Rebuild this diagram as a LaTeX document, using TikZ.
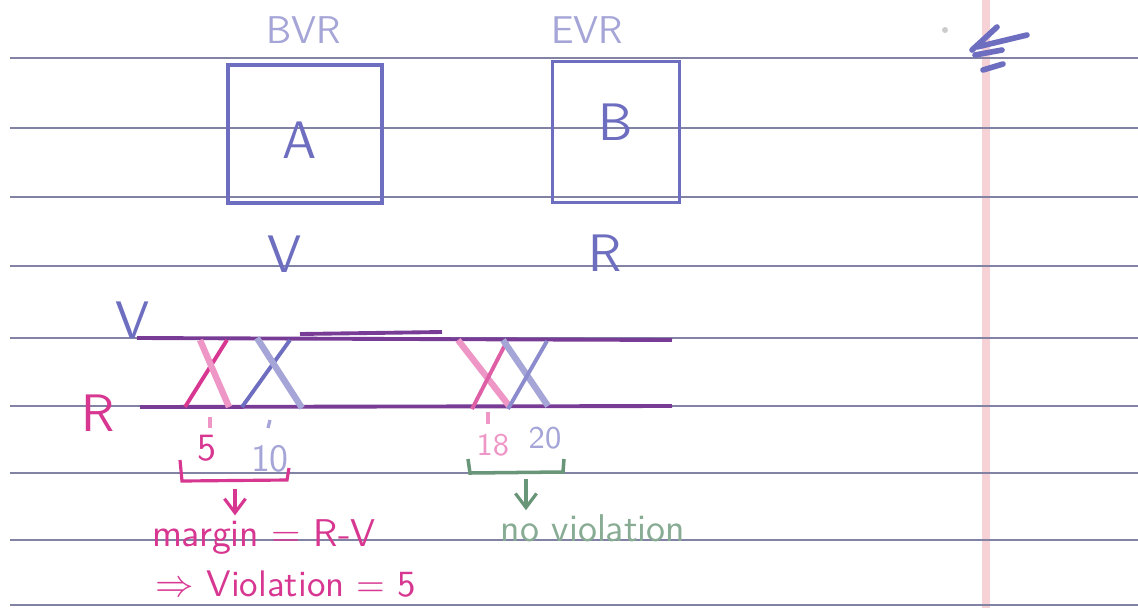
\documentclass[tikz,border=0pt]{standalone}
\usepackage{tikz}
\usetikzlibrary{arrows.meta}

\definecolor{penblue}{RGB}{110,110,192}
\definecolor{lightblue}{RGB}{165,165,215}
\definecolor{penpink}{RGB}{215,55,145}
\definecolor{lightpink}{RGB}{238,150,198}
\definecolor{pengreen}{RGB}{105,150,120}
\definecolor{wave}{RGB}{120,60,150}
\definecolor{rulegray}{RGB}{130,130,165}
\definecolor{marginred}{RGB}{246,210,214}

\begin{document}
\begin{tikzpicture}[x=0.01cm,y=-0.01cm,
			rule/.style={rulegray, line width=0.8pt},
			blockbox/.style={draw=penblue, line width=1.1pt, inner sep=0pt},
			bigtxt/.style={font=\sffamily\fontsize{15}{18}\selectfont, inner sep=1pt},
			smalltxt/.style={font=\sffamily\fontsize{11}{13}\selectfont, inner sep=1pt},
			handarrow/.style={-{Straight Barb[length=4pt,width=6pt]}, line width=0.9pt}
			]
			\useasboundingbox (0,0) rectangle (1138,608);
			\fill[white] (0,0) rectangle (1138,608);
			%%%%%%%%%%%%%%% paper
			\draw[marginred, line width=2.3pt] (986,0) -- (986,608);
			\foreach \y in {58,128,197,266,338,406,473,540,605}
			\draw[rule] (10,\y) -- (1138,\y);
			\fill[gray!40] (945,30) circle (3);
			\draw[penblue, line width=1.6pt, line cap=round] (972,50) -- (997,27) (977,47) -- (1027,35)
			(975,55) -- (1002,50) (983,70) -- (1003,64);
			%%%%%%%%%%%%%%% blocks
			\node[blockbox, minimum width=1.54cm, minimum height=1.38cm] (A) at (305,134) {};
			\node[blockbox, minimum width=1.27cm, minimum height=1.41cm] (B) at (616,132) {};
			\node[bigtxt, text=penblue] (la) at (300,140) {A};
			\node[bigtxt, text=penblue] (lb) at (616,122) {B};
			\node[smalltxt, text=lightblue] (bvr) at (304,30) {BVR};
			\node[smalltxt, text=lightblue] (evr) at (587,30) {EVR};
			\node[bigtxt, text=penblue] (pv) at (285,254) {V};
			\node[bigtxt, text=penblue] (pr) at (605,253) {R};
			%%%%%%%%%%%%%%% waveforms
			\node[bigtxt, text=penblue] (nv) at (133,320) {V};
			\node[bigtxt, text=penpink] (nr) at (98,413) {R};
			\coordinate (vs) at (137,338);
			\coordinate (ve) at (672,340);
			\coordinate (rs) at (140,407);
			\coordinate (re) at (672,406);
			\draw[wave, line width=1.1pt] (vs) -- (ve);
			\draw[wave, line width=1.1pt] (rs) -- (re);
			\draw[wave, line width=1.1pt] (300,334) -- (442,332);
			\draw[penpink, line width=1.1pt] (185,407) -- (227,340);
			\draw[lightpink, line width=1.8pt] (200,340) -- (229,407);
			\draw[penblue, line width=1.1pt] (242,407) -- (290,340);
			\draw[lightblue, line width=1.8pt] (257,338) -- (302,408);
			\draw[lightpink, line width=1.8pt] (458,340) -- (510,407);
			\draw[penpink!80, line width=1.1pt] (472,409) -- (507,341);
			\draw[lightblue, line width=1.8pt] (503,340) -- (548,406);
			\draw[penblue!80, line width=1.1pt] (508,409) -- (547,341);
			%%%%%%%%%%%%%%% ticks
			\draw[lightpink, line width=0.9pt] (210,417) -- (210,428);
			\draw[lightblue, line width=0.9pt] (270,420) -- (268,428);
			\draw[lightpink, line width=0.9pt] (488,412) -- (488,424);
			\node[smalltxt, text=penpink] (t5) at (207,448) {5};
			\node[smalltxt, text=lightblue] (t10) at (270,459) {10};
			\node[smalltxt, text=lightpink, font=\sffamily\fontsize{9}{11}\selectfont] (t18) at (493,445) {18};
			\node[smalltxt, text=lightblue, font=\sffamily\fontsize{9}{11}\selectfont] (t20) at (545,438) {20};
			%%%%%%%%%%%%%%% margin, violation
			\draw[penpink, line width=0.9pt] (180,460) -- (182,481) -- (287,480) -- (289,468);
			\coordinate (pa) at (235,489);
			\node[smalltxt, text=penpink] (margin) at (264,537) {margin = R-V};
			\node[smalltxt, text=penpink, font=\sffamily\fontsize{10.5}{13}\selectfont] (viol) at (286,584) {$\Rightarrow$ Violation = 5};
			\draw[penpink, handarrow] (pa) -- (margin.north -| pa);
			\draw[pengreen, line width=1pt] (468,459) -- (470,473) -- (563,472) -- (564,459);
			\coordinate (ga) at (526,479);
			\node[smalltxt, text=pengreen!80] (noviol) at (593,528) {no violation};
			\draw[pengreen, handarrow] (ga) -- (noviol.north -| ga);
		\end{tikzpicture}
\end{document}
